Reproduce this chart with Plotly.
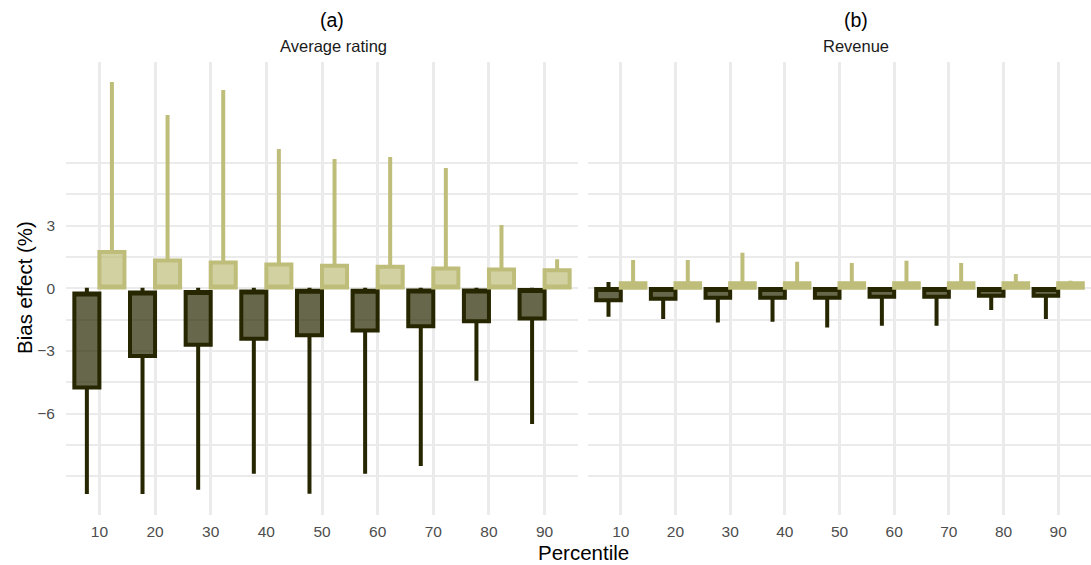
import plotly.graph_objects as go

W, H = 1091, 565

percentiles = ["10", "20", "30", "40", "50", "60", "70", "80", "90"]

# Panel (a): Average rating
a_neg_low = [-9.84, -9.84, -9.64, -8.87, -9.83, -8.88, -8.50, -4.43, -6.49]
a_neg_q1 = [-4.75, -3.24, -2.70, -2.42, -2.25, -2.02, -1.82, -1.58, -1.45]
a_neg_q3 = [-0.25, -0.20, -0.18, -0.15, -0.12, -0.12, -0.10, -0.10, -0.08]
a_neg_high = [0.02, 0.02, 0.02, 0.02, 0.02, 0.02, 0.02, 0.02, 0.02]

a_pos_low = [0.0] * 9
a_pos_q1 = [0.04] * 9
a_pos_q3 = [1.74, 1.33, 1.23, 1.14, 1.08, 1.03, 0.95, 0.90, 0.86]
a_pos_high = [9.87, 8.29, 9.49, 6.67, 6.19, 6.28, 5.76, 3.03, 1.39]

# Panel (b): Revenue
b_neg_low = [-1.36, -1.47, -1.64, -1.60, -1.88, -1.79, -1.79, -1.04, -1.47]
b_neg_q1 = [-0.57, -0.50, -0.45, -0.45, -0.45, -0.41, -0.41, -0.36, -0.36]
b_neg_q3 = [-0.03] * 9
b_neg_high = [0.30, 0.0, 0.0, 0.0, 0.0, 0.0, 0.0, 0.0, 0.0]

b_pos_low = [0.0] * 9
b_pos_q1 = [0.02] * 9
b_pos_q3 = [0.24] * 9
b_pos_high = [1.35, 1.35, 1.70, 1.27, 1.21, 1.32, 1.21, 0.68, 0.36]

y_labeled = [-6, -3, 0, 3]
y_labels = ["\u22126", "\u22123", "0", "3"]
y_minor = [-9, -7.5, -4.5, -1.5, 1.5, 4.5, 6]

DARK = "#262600"
DARK_FILL = "rgba(38,38,0,0.7)"
LIGHT = "#bfbd7a"
LIGHT_FILL = "rgba(191,189,122,0.7)"
FONT = "Liberation Sans, Arial, Helvetica, sans-serif"

fig = go.Figure()


def add_box(low, q1, q3, high, color, fill, xa, ya, group, median_at):
    fig.add_trace(go.Box(
        x=percentiles, lowerfence=low, q1=q1, median=median_at, q3=q3,
        upperfence=high, boxpoints=False, whiskerwidth=0,
        line=dict(color=color, width=4), fillcolor=fill,
        xaxis=xa, yaxis=ya, offsetgroup=group, alignmentgroup=xa,
        showlegend=False, hoverinfo="skip",
    ))


add_box(a_neg_low, a_neg_q1, a_neg_q3, a_neg_high, DARK, DARK_FILL, "x", "y", "neg", a_neg_q3)
add_box(a_pos_low, a_pos_q1, a_pos_q3, a_pos_high, LIGHT, LIGHT_FILL, "x", "y", "pos", a_pos_q1)
add_box(b_neg_low, b_neg_q1, b_neg_q3, b_neg_high, DARK, DARK_FILL, "x2", "y2", "neg", b_neg_q3)
add_box(b_pos_low, b_pos_q1, b_pos_q3, b_pos_high, LIGHT, LIGHT_FILL, "x2", "y2", "pos", b_pos_q1)

px_x = lambda p: p / W
px_y = lambda p: 1 - p / H

panel_top, panel_bot = 62, 515
ydom = [px_y(panel_bot), px_y(panel_top)]
yrange = [-10.85, 10.83]

xcommon = dict(
    type="category", categoryorder="array", categoryarray=percentiles,
    range=[-0.6, 8.6], showgrid=True, gridcolor="#ebebeb", gridwidth=2.5,
    zeroline=False, showline=False, ticks="", automargin=False,
    tickfont=dict(family=FONT, size=15.5, color="#4d4d4d"), ticklabelstandoff=5,
    fixedrange=True,
)
ycommon = dict(
    range=yrange, domain=ydom, tickmode="array", tickvals=y_labeled,
    ticktext=y_labels, showgrid=True, gridcolor="#ebebeb", gridwidth=2.2,
    zeroline=False, showline=False, ticks="", automargin=False,
    minor=dict(tickmode="array", tickvals=y_minor, showgrid=True,
               gridcolor="#ebebeb", gridwidth=1.6, ticks=""),
    tickfont=dict(family=FONT, size=15.5, color="#4d4d4d"),
    fixedrange=True,
)

fig.update_layout(
    width=W, height=H,
    margin=dict(l=0, r=0, t=0, b=0),
    paper_bgcolor="white", plot_bgcolor="white",
    boxmode="group", boxgap=0.1, boxgroupgap=0,
    xaxis=dict(domain=[px_x(66), px_x(578)], anchor="y", **xcommon),
    xaxis2=dict(domain=[px_x(588), 1.0], anchor="y2", **xcommon),
    yaxis=dict(anchor="x", ticklabelstandoff=10, **ycommon),
    yaxis2=dict(anchor="x2", matches="y", showticklabels=False, **ycommon),
    font=dict(family=FONT),
)

annotations = [
    dict(text="(a)", x=px_x(332), y=px_y(20), font=dict(size=19.5, color="black")),
    dict(text="Average rating", x=px_x(333), y=px_y(46), font=dict(size=16.5, color="#1a1a1a")),
    dict(text="(b)", x=px_x(856), y=px_y(20), font=dict(size=19.5, color="black")),
    dict(text="Revenue", x=px_x(856), y=px_y(46), font=dict(size=16.5, color="#1a1a1a")),
    dict(text="Percentile", x=px_x(583), y=px_y(552), font=dict(size=20.5, color="black")),
    dict(text="Bias effect (%)", x=px_x(24), y=px_y(288), textangle=-90,
         font=dict(size=20.5, color="black")),
]
for a in annotations:
    fig.add_annotation(xref="paper", yref="paper", showarrow=False,
                       xanchor="center", yanchor="middle",
                       font_family=FONT, **{k: v for k, v in a.items() if k != "font"},
                       font_size=a["font"]["size"], font_color=a["font"]["color"])

fig.write_html("out.html")
